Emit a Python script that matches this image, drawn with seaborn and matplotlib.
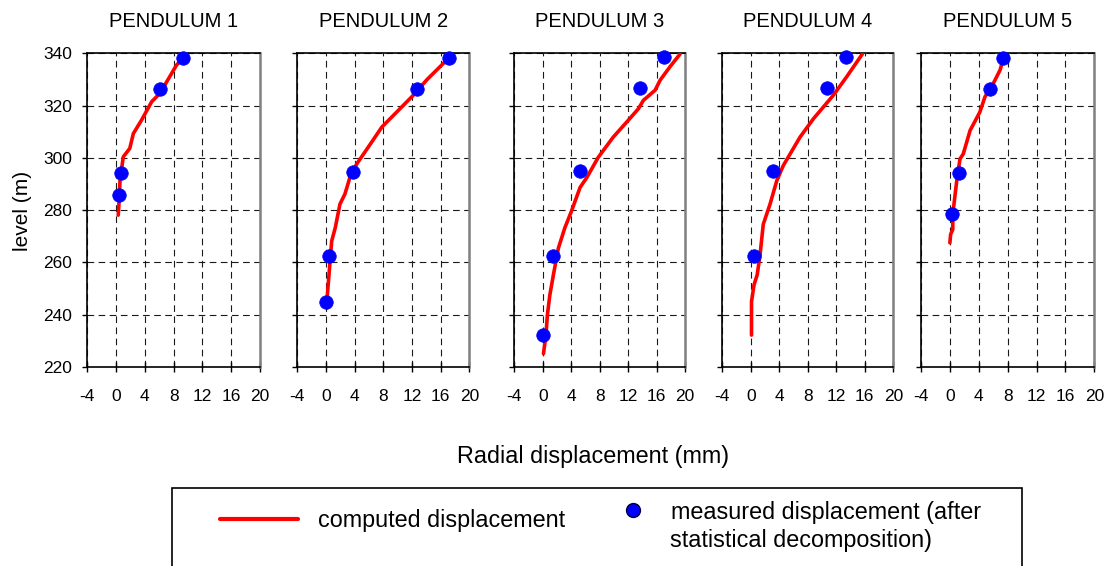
import matplotlib
matplotlib.use("Agg")
import matplotlib.pyplot as plt
import seaborn as sns
from matplotlib import font_manager
from matplotlib.lines import Line2D
from matplotlib.patches import Rectangle

# ---------------- data ----------------
titles = ["PENDULUM 1", "PENDULUM 2", "PENDULUM 3", "PENDULUM 4", "PENDULUM 5"]
x_ticks = [-4, 0, 4, 8, 12, 16, 20]
y_ticks = [220, 240, 260, 280, 300, 320, 340]

# computed displacement (mm) vs level (m)
p1_comp_x = [0.3, 0.4, 0.55, 1.0, 1.9, 2.4, 3.55, 4.95, 6.1, 8.4, 9.3]
p1_comp_y = [278.1, 282.5, 291.5, 300.4, 303.6, 309.3, 314.5, 321.5, 324.7, 335.5, 338.1]
p2_comp_x = [0.2, 0.2, 0.5, 0.8, 1.3, 1.95, 2.65, 3.35, 4.3, 5.9, 7.8, 9.9, 12.2, 14.05, 16.4, 17.1]
p2_comp_y = [242.6, 247.7, 258.0, 268.2, 273.3, 282.3, 286.2, 292.6, 297.7, 304.1, 311.8, 317.6, 324.0, 329.8, 336.2, 338.0]
p3_comp_x = [0.1, 0.45, 0.65, 1.0, 1.5, 2.2, 3.1, 4.05, 5.25, 6.2, 7.8, 9.9, 12.0, 13.45, 14.15, 15.8, 16.5, 17.9, 19.3]
p3_comp_y = [225.1, 232.2, 239.9, 247.6, 255.3, 265.5, 273.2, 279.7, 288.7, 292.5, 300.2, 307.9, 314.3, 318.8, 322.0, 325.9, 329.7, 334.9, 339.7]
p4_comp_x = [0.1, 0.1, 0.45, 0.9, 1.3, 1.75, 2.7, 3.65, 4.55, 6.9, 8.8, 11.6, 13.45, 15.65]
p4_comp_y = [232.2, 245.0, 251.4, 255.3, 263.0, 274.6, 282.3, 291.3, 297.0, 307.9, 315.0, 324.0, 331.0, 339.7]
p5_comp_x = [0.0, 0.1, 0.4, 0.4, 0.95, 1.4, 1.85, 2.8, 4.15, 4.85, 6.0, 6.95, 7.4]
p5_comp_y = [267.5, 270.7, 272.6, 278.4, 291.2, 299.6, 301.5, 310.5, 317.5, 323.3, 328.4, 333.6, 338.0]

# measured displacement (after statistical decomposition)
p1_meas_x = [9.3, 6.1, 0.65, 0.35]
p1_meas_y = [338.1, 326.3, 294.4, 285.7]
p2_meas_x = [17.1, 12.75, 3.8, 0.45, 0.0]
p2_meas_y = [338.1, 326.3, 294.7, 262.3, 244.9]
p3_meas_x = [17.0, 13.7, 5.25, 1.5, 0.1]
p3_meas_y = [338.5, 326.8, 295.1, 262.3, 232.2]
p4_meas_x = [13.35, 10.65, 3.15, 0.45]
p4_meas_y = [338.5, 326.8, 295.1, 262.6]
p5_meas_x = [7.4, 5.55, 1.25, 0.25]
p5_meas_y = [338.1, 326.3, 294.4, 278.6]

comp_x = [p1_comp_x, p2_comp_x, p3_comp_x, p4_comp_x, p5_comp_x]
comp_y = [p1_comp_y, p2_comp_y, p3_comp_y, p4_comp_y, p5_comp_y]
meas_x = [p1_meas_x, p2_meas_x, p3_meas_x, p4_meas_x, p5_meas_x]
meas_y = [p1_meas_y, p2_meas_y, p3_meas_y, p4_meas_y, p5_meas_y]

legend_line_label = "computed displacement"
legend_marker_label = ["measured displacement (after", "statistical decomposition)"]

# ---------------- style ----------------
sns.set_style("white")
plt.rcParams["font.family"] = ["Liberation Sans", "DejaVu Sans"]
for k in ["text.color", "axes.labelcolor", "xtick.color", "ytick.color"]:
    plt.rcParams[k] = "black"

names = {f.name for f in font_manager.fontManager.ttflist}
NARROW = "Liberation Sans Narrow" in names
tick_font = "Liberation Sans Narrow" if NARROW else "Liberation Sans"
tick_size = 13.5 if NARROW else 12.5
title_size = 16 if NARROW else 14.5

W, H = 1109, 566
fig = plt.figure(figsize=(W / 100, H / 100), dpi=100)

panel_px = [(87.3, 260.0), (297.3, 469.3), (514.3, 685.0), (722.3, 893.3), (921.0, 1094.3)]
top_px, bot_px = 53.3, 367.0

for i in range(5):
    l, r = panel_px[i]
    ax = fig.add_axes([l / W, 1 - bot_px / H, (r - l) / W, (bot_px - top_px) / H])
    sns.lineplot(x=comp_x[i], y=comp_y[i], sort=False, estimator=None,
                 color="#FF0000", lw=2.6, ax=ax, zorder=3)
    sns.scatterplot(x=meas_x[i], y=meas_y[i], color="#0000FF", s=95,
                    edgecolor="#0000FF", linewidth=0.5, ax=ax, zorder=4, clip_on=False)
    ax.set_xlim(-4, 20)
    ax.set_ylim(220, 340)
    ax.set_xticks(x_ticks)
    ax.set_yticks(y_ticks)
    ax.set_xticklabels([str(v) for v in x_ticks], fontfamily=tick_font, fontsize=tick_size)
    if i == 0:
        ax.set_yticklabels([str(v) for v in y_ticks], fontfamily=tick_font, fontsize=tick_size)
    else:
        ax.set_yticklabels([])
    ax.set_xlabel("")
    ax.set_ylabel("")
    ax.grid(True, color="#1a1a1a", linestyle=(0, (6, 4)), lw=0.8)
    ax.set_axisbelow(True)
    ax.tick_params(axis="x", direction="inout", length=7, width=1, pad=12, color="black")
    ax.tick_params(axis="y", direction="out", length=3.6, width=1, pad=7.5, color="black", left=True)
    ax.tick_params(axis="x", bottom=True)
    for side in ["left", "bottom", "top"]:
        ax.spines[side].set_color("black")
        ax.spines[side].set_linewidth(1.2)
        ax.spines[side].set_visible(True)
    ax.spines["right"].set_visible(True)
    ax.spines["right"].set_color("#808080")
    ax.spines["right"].set_linewidth(1.8)
    ax.set_title(titles[i], fontfamily=tick_font, fontsize=title_size, pad=19, color="black")

fig.text(22 / W, 1 - 211 / H, "level (m)", rotation=90, ha="center", va="center",
         fontsize=15, fontfamily=tick_font)
fig.text(593 / W, 1 - 457 / H, "Radial displacement (mm)", ha="center", va="center",
         fontsize=16.8)

# legend box (extends beyond the bottom edge)
fig.patches.append(Rectangle((172 / W, -0.1), (1022 - 172) / W, 0.1 + 1 - 488 / H,
                             transform=fig.transFigure, fill=False, edgecolor="black",
                             lw=1.2, clip_on=False))

h1 = Line2D([], [], color="#FF0000", lw=3)
leg1 = fig.legend([h1], [legend_line_label], loc="center left",
                  bbox_to_anchor=(220 / W, 1 - 521 / H), frameon=False, fontsize=16.8,
                  handlelength=3.33, handletextpad=0.85, borderpad=0, borderaxespad=0)
h2 = Line2D([], [], color="#0000FF", marker="o", linestyle="none", markersize=10,
            markeredgecolor="#000040", markeredgewidth=1)
leg2 = fig.legend([h2], [legend_marker_label[0]],
                  loc="center left", bbox_to_anchor=(624 / W, 1 - 512 / H), frameon=False,
                  fontsize=16.8, handlelength=0.8, handletextpad=1.2, borderpad=0,
                  borderaxespad=0)
fig.text(670 / W, 1 - 541 / H, legend_marker_label[1], ha="left", va="center", fontsize=16.8)

fig.savefig("out.png", dpi=100)
